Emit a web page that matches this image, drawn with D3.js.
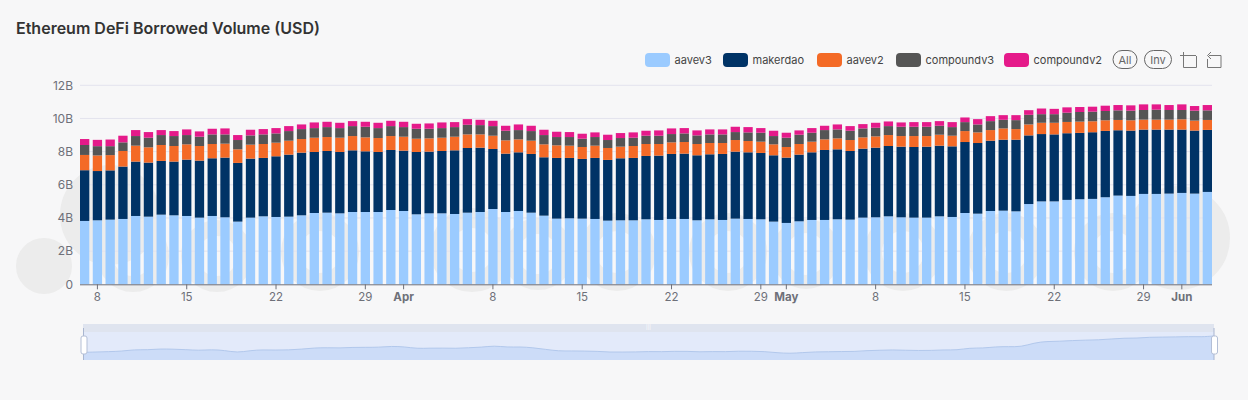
<!DOCTYPE html>
<html>
<head>
<meta charset="utf-8">
<script src="https://cdn.jsdelivr.net/npm/d3@7"></script>
<style>
html, body { margin: 0; padding: 0; background: #f7f7f8; }
text { font-family: Inter, "Noto Sans", sans-serif; }
</style>
</head>
<body>
<div id="chart"></div>
<script>
const seriesNames = ["aavev3", "makerdao", "aavev2", "compoundv3", "compoundv2"];
const seriesColors = ["#9bcbff", "#003366", "#f46a26", "#555555", "#e51a8a"];

// values in billions USD, one per day starting Mar 7
const aavev3 = [3.82,3.86,3.90,3.94,4.12,4.08,4.20,4.16,4.12,4.02,4.12,4.04,3.78,4.02,4.10,4.06,4.08,4.16,4.30,4.32,4.28,4.36,
  4.36,4.36,4.48,4.42,4.22,4.28,4.28,4.24,4.32,4.36,4.54,4.36,4.42,4.32,4.14,3.96,3.98,3.96,3.94,3.84,3.86,3.86,3.92,3.88,
  3.94,3.94,3.86,3.92,3.88,3.96,3.94,3.92,3.78,3.70,3.80,3.88,3.88,3.92,3.90,4.02,4.04,4.10,4.04,4.02,4.02,4.10,4.06,
  4.30,4.26,4.42,4.44,4.40,4.84,5.00,5.00,5.09,5.13,5.15,5.25,5.35,5.33,5.45,5.45,5.47,5.51,5.47,5.57];
const makerdao = [3.06,2.97,2.97,3.16,3.28,3.26,3.24,3.24,3.40,3.44,3.48,3.60,3.54,3.56,3.52,3.66,3.74,3.78,3.68,3.72,3.70,3.72,
  3.66,3.62,3.62,3.64,3.76,3.72,3.76,3.84,3.90,3.88,3.62,3.52,3.54,3.54,3.52,3.66,3.64,3.60,3.68,3.66,3.74,3.76,3.82,3.88,
  3.92,3.94,3.92,3.92,3.98,4.04,4.02,4.00,4.00,3.94,4.02,4.08,4.22,4.22,4.14,4.16,4.20,4.24,4.26,4.26,4.28,4.26,4.26,
  4.28,4.26,4.24,4.28,4.32,4.14,4.06,4.04,4.02,4.00,4.02,4.00,3.94,3.94,3.88,3.88,3.86,3.82,3.80,3.74];
const aavev2 = [.92,.94,.92,.94,.96,.92,.96,.94,.92,.88,.86,.84,.82,.84,.84,.82,.84,.82,.86,.84,.86,.86,
  .84,.84,.84,.84,.80,.80,.80,.82,.82,.80,.80,.80,.78,.80,.78,.76,.74,.72,.74,.72,.70,.72,.72,.70,
  .70,.70,.68,.68,.66,.70,.68,.68,.66,.64,.64,.64,.64,.66,.66,.68,.68,.66,.64,.66,.64,.66,.64,
  .66,.64,.64,.68,.64,.66,.68,.70,.68,.68,.66,.64,.62,.62,.60,.60,.60,.62,.60,.60];
const compoundv3 = [.60,.56,.54,.52,.58,.58,.60,.60,.56,.56,.58,.56,.56,.56,.58,.56,.58,.60,.58,.60,.58,.60,
  .64,.60,.60,.58,.60,.58,.58,.58,.58,.56,.58,.58,.56,.58,.56,.50,.52,.50,.52,.48,.52,.50,.50,.50,
  .50,.52,.52,.52,.52,.48,.52,.54,.50,.56,.56,.54,.56,.54,.56,.54,.52,.54,.56,.56,.56,.54,.52,
  .54,.48,.54,.52,.54,.58,.52,.52,.56,.58,.58,.56,.58,.58,.58,.60,.58,.56,.60,.58];
const compoundv2 = [.36,.38,.40,.40,.36,.34,.30,.30,.34,.32,.34,.36,.30,.34,.32,.32,.30,.28,.34,.32,.32,.30,
  .30,.32,.32,.32,.30,.32,.34,.30,.34,.32,.32,.30,.34,.32,.32,.32,.30,.30,.28,.32,.30,.32,.30,.32,
  .34,.32,.30,.30,.30,.32,.32,.28,.32,.30,.26,.28,.26,.30,.28,.26,.30,.28,.26,.28,.28,.28,.30,
  .28,.32,.30,.28,.30,.28,.34,.32,.32,.30,.30,.32,.32,.32,.34,.32,.30,.34,.28,.32];

const allSeries = [aavev3, makerdao, aavev2, compoundv3, compoundv2];
const days = d3.timeDay.range(new Date(2024, 2, 7), new Date(2024, 5, 4));
const yTicks = [0, 2, 4, 6, 8, 10, 12];
const monthLabels = { "2-8": "8", "2-15": "15", "2-22": "22", "2-29": "29", "3-1": "Apr", "3-8": "8", "3-15": "15", "3-22": "22",
  "3-29": "29", "4-1": "May", "4-8": "8", "4-15": "15", "4-22": "22", "4-29": "29", "5-1": "Jun" };
const dayKey = d => d.getMonth() + "-" + d.getDate();

const width = 1248, height = 400;
const svg = d3.select("#chart").append("svg")
  .attr("width", width).attr("height", height)
  .style("display", "block");

const x = d3.scaleBand().domain(days).range([80, 1212]).paddingInner(0.27).paddingOuter(0);
const y = d3.scaleLinear().domain([0, 12]).range([284.3, 85.3]);

// Title
svg.append("text").attr("x", 16).attr("y", 34)
  .attr("font-size", 16).attr("font-weight", 600).attr("fill", "#333")
  .text("Ethereum DeFi Borrowed Volume (USD)");

// Watermark behind the plot: cx, cy, r, ring width
const blobs = [[44, 266, 14, 28], [110, 215, 25, 50], [133, 256, 28, 16], [217, 256, 28, 16], [320, 252, 30, 18],
  [472, 250, 32, 20], [538, 254, 28, 16], [617, 252, 30, 18], [728, 252, 30, 18], [806, 254, 28, 14],
  [903, 252, 30, 18], [1006, 252, 30, 18], [1113, 252, 30, 18], [1178, 238, 26, 52]];
svg.append("g").selectAll("circle").data(blobs).join("circle")
  .attr("cx", d => d[0]).attr("cy", d => d[1]).attr("r", d => d[2])
  .attr("fill", "none").attr("stroke", "#ececec").attr("stroke-width", d => d[3]);

// Grid lines
svg.append("g").selectAll("line").data(yTicks.filter(d => d > 0)).join("line")
  .attr("x1", 80).attr("x2", 1212)
  .attr("y1", d => y(d)).attr("y2", d => y(d))
  .attr("stroke", "#e3e3ee");

// Stacked bars
const rows = days.map((d, i) => {
  const row = { day: d };
  seriesNames.forEach((name, s) => { row[name] = allSeries[s][i]; });
  return row;
});
const stacked = d3.stack().keys(seriesNames)(rows);
svg.append("g").selectAll("g").data(stacked).join("g")
  .attr("fill", (d, i) => seriesColors[i])
  .selectAll("rect").data(d => d).join("rect")
  .attr("x", d => x(d.data.day))
  .attr("width", x.bandwidth())
  .attr("y", d => y(d[1]))
  .attr("height", d => y(d[0]) - y(d[1]));

// Axes
const xAxis = d3.axisBottom(x)
  .tickValues(days.filter(d => monthLabels[dayKey(d)]))
  .tickFormat(d => monthLabels[dayKey(d)])
  .tickSize(5).tickPadding(4);
const gx = svg.append("g").attr("transform", "translate(0,284.3)").call(xAxis);
gx.select(".domain").attr("stroke", "#6e7079").attr("d", "M80,0.5H1212");
gx.selectAll("line").attr("stroke", "#6e7079");
gx.selectAll("text").attr("fill", "#6e7079").attr("font-size", 11.5)
  .style("font-family", "Inter")
  .attr("font-weight", d => d.getDate() === 1 ? 700 : 400);

const yAxis = d3.axisLeft(y).tickValues(yTicks)
  .tickFormat(d => d === 0 ? "0" : d + "B").tickSize(0).tickPadding(7);
const gy = svg.append("g").attr("transform", "translate(80,0)").call(yAxis);
gy.select(".domain").remove();
gy.selectAll("text").attr("fill", "#6e7079").attr("font-size", 12).style("font-family", "Inter");

// Legend
const legendX = [645, 723, 817, 896, 1004];
const legend = svg.append("g").selectAll("g").data(seriesNames).join("g")
  .attr("transform", (d, i) => `translate(${legendX[i]},53)`);
legend.append("rect").attr("width", 25).attr("height", 14).attr("rx", 4)
  .attr("fill", (d, i) => seriesColors[i]);
legend.append("text").attr("x", 29.5).attr("y", 11)
  .attr("font-size", 11).attr("fill", "#444").text(d => d);

// All / Inv buttons
[["All", 1125, 12], ["Inv", 1158, 13.5]].forEach(([label, cx, rx]) => {
  svg.append("rect").attr("x", cx - rx).attr("y", 50.5).attr("width", rx * 2).attr("height", 18)
    .attr("rx", 9).attr("fill", "none").attr("stroke", "#666");
  svg.append("text").attr("x", cx).attr("y", 63.5).attr("text-anchor", "middle")
    .attr("font-size", 11).attr("fill", "#666").text(label);
});

// Toolbox icons
svg.append("path").attr("fill", "none").attr("stroke", "#777")
  .attr("d", "M1180,55.5H1196M1183.5,52V67.5H1196.5V56");
svg.append("path").attr("fill", "none").attr("stroke", "#777")
  .attr("d", "M1209,55.5H1221V67.5H1207.5V59M1207.5,55.5L1211,52M1207.5,55.5L1211,59");

// Data zoom slider
const zoomX = d3.scalePoint().domain(days).range([83, 1214]);
const zoomY = d3.scaleLinear().domain(d3.extent(aavev3)).range([353.5, 336]);
svg.append("rect").attr("x", 83).attr("y", 332).attr("width", 1131).attr("height", 28).attr("fill", "#e3eafa");
svg.append("rect").attr("x", 83).attr("y", 324).attr("width", 1131).attr("height", 8).attr("fill", "#dfe4ef");
const area = d3.area().curve(d3.curveBasis).x(d => zoomX(d.day)).y0(360).y1(d => zoomY(d.aavev3));
svg.append("path").datum(rows).attr("d", area).attr("fill", "#ccdcf8");
const line = d3.line().curve(d3.curveBasis).x(d => zoomX(d.day)).y(d => zoomY(d.aavev3));
svg.append("path").datum(rows).attr("d", line).attr("fill", "none").attr("stroke", "#b2c8ec");
[83.5, 1214].forEach(hx => {
  svg.append("line").attr("x1", hx).attr("x2", hx).attr("y1", 328).attr("y2", 360).attr("stroke", "#a9b6d0");
  svg.append("rect").attr("x", hx - 2.5).attr("y", 336).attr("width", 6).attr("height", 18).attr("rx", 2)
    .attr("fill", "#fff").attr("stroke", "#b4bfd6");
});
svg.append("text").attr("x", 648.5).attr("y", 329).attr("text-anchor", "middle")
  .attr("font-size", 5).attr("fill", "#fff").text("|||");
</script>
</body>
</html>
